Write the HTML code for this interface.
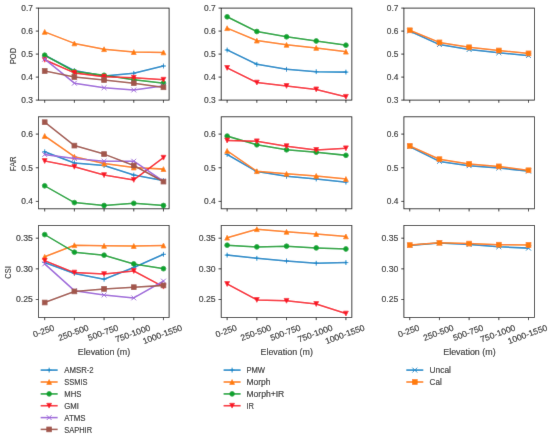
<!DOCTYPE html>
<html><head><meta charset="utf-8"><style>
html,body{margin:0;padding:0;background:#fff;}
svg{display:block;}
text{font-family:"Liberation Sans",sans-serif;font-size:8.5px;fill:#1a1a1a;stroke:#1a1a1a;stroke-width:0.12px;}
</style></head><body>
<svg width="550" height="438" viewBox="0 0 550 438">
<defs><filter id="bl" x="0" y="0" width="550" height="438" filterUnits="userSpaceOnUse"><feConvolveMatrix order="3" kernelMatrix="0.0052 0.0619 0.0052 0.0619 0.7314 0.0619 0.0052 0.0619 0.0052" edgeMode="duplicate"/></filter></defs>
<g filter="url(#bl)">
<rect width="550" height="438" fill="#fff"/>
<clipPath id="cp00"><rect x="38.45" y="8.1" width="130.65" height="92"/></clipPath>
<g clip-path="url(#cp00)">
<polyline points="44.69,55.3 74.38,70.6 104.08,76 133.77,73.3 163.46,66" fill="none" stroke="#0886c8" stroke-width="1.55" stroke-linejoin="round" stroke-linecap="square"/>
<path d="M42.29,55.3H47.09M44.69,52.9V57.7" stroke="#0886c8" stroke-width="1.0" fill="none"/>
<path d="M71.98,70.6H76.78M74.38,68.2V73" stroke="#0886c8" stroke-width="1.0" fill="none"/>
<path d="M101.67,76H106.48M104.08,73.6V78.4" stroke="#0886c8" stroke-width="1.0" fill="none"/>
<path d="M131.37,73.3H136.17M133.77,70.9V75.7" stroke="#0886c8" stroke-width="1.0" fill="none"/>
<path d="M161.06,66H165.86M163.46,63.6V68.4" stroke="#0886c8" stroke-width="1.0" fill="none"/>
<polyline points="44.69,31.9 74.38,43.4 104.08,49.2 133.77,52.1 163.46,52.4" fill="none" stroke="#ff7c08" stroke-width="1.55" stroke-linejoin="round" stroke-linecap="square"/>
<path d="M44.69,29.5L42.29,34.3L47.09,34.3Z" fill="#ff7c08" stroke="#ff7c08" stroke-width="0.76" stroke-linejoin="miter"/>
<path d="M74.38,41L71.98,45.8L76.78,45.8Z" fill="#ff7c08" stroke="#ff7c08" stroke-width="0.76" stroke-linejoin="miter"/>
<path d="M104.08,46.8L101.67,51.6L106.48,51.6Z" fill="#ff7c08" stroke="#ff7c08" stroke-width="0.76" stroke-linejoin="miter"/>
<path d="M133.77,49.7L131.37,54.5L136.17,54.5Z" fill="#ff7c08" stroke="#ff7c08" stroke-width="0.76" stroke-linejoin="miter"/>
<path d="M163.46,50L161.06,54.8L165.86,54.8Z" fill="#ff7c08" stroke="#ff7c08" stroke-width="0.76" stroke-linejoin="miter"/>
<polyline points="44.69,55.2 74.38,71.5 104.08,75.3 133.77,79.7 163.46,83.2" fill="none" stroke="#08a22e" stroke-width="1.55" stroke-linejoin="round" stroke-linecap="square"/>
<circle cx="44.69" cy="55.2" r="2.4" fill="#08a22e" stroke="#08a22e" stroke-width="0.76"/>
<circle cx="74.38" cy="71.5" r="2.4" fill="#08a22e" stroke="#08a22e" stroke-width="0.76"/>
<circle cx="104.08" cy="75.3" r="2.4" fill="#08a22e" stroke="#08a22e" stroke-width="0.76"/>
<circle cx="133.77" cy="79.7" r="2.4" fill="#08a22e" stroke="#08a22e" stroke-width="0.76"/>
<circle cx="163.46" cy="83.2" r="2.4" fill="#08a22e" stroke="#08a22e" stroke-width="0.76"/>
<polyline points="44.69,59.8 74.38,72.9 104.08,76.7 133.77,77.7 163.46,79.7" fill="none" stroke="#f81826" stroke-width="1.55" stroke-linejoin="round" stroke-linecap="square"/>
<path d="M44.69,62.2L42.29,57.4L47.09,57.4Z" fill="#f81826" stroke="#f81826" stroke-width="0.76" stroke-linejoin="miter"/>
<path d="M74.38,75.3L71.98,70.5L76.78,70.5Z" fill="#f81826" stroke="#f81826" stroke-width="0.76" stroke-linejoin="miter"/>
<path d="M104.08,79.1L101.67,74.3L106.48,74.3Z" fill="#f81826" stroke="#f81826" stroke-width="0.76" stroke-linejoin="miter"/>
<path d="M133.77,80.1L131.37,75.3L136.17,75.3Z" fill="#f81826" stroke="#f81826" stroke-width="0.76" stroke-linejoin="miter"/>
<path d="M163.46,82.1L161.06,77.3L165.86,77.3Z" fill="#f81826" stroke="#f81826" stroke-width="0.76" stroke-linejoin="miter"/>
<polyline points="44.69,59.2 74.38,83.2 104.08,87.7 133.77,90 163.46,85.9" fill="none" stroke="#9e66da" stroke-width="1.55" stroke-linejoin="round" stroke-linecap="square"/>
<path d="M42.29,56.8L47.09,61.6M42.29,61.6L47.09,56.8" stroke="#9e66da" stroke-width="1.0" fill="none"/>
<path d="M71.98,80.8L76.78,85.6M71.98,85.6L76.78,80.8" stroke="#9e66da" stroke-width="1.0" fill="none"/>
<path d="M101.67,85.3L106.48,90.1M101.67,90.1L106.48,85.3" stroke="#9e66da" stroke-width="1.0" fill="none"/>
<path d="M131.37,87.6L136.17,92.4M131.37,92.4L136.17,87.6" stroke="#9e66da" stroke-width="1.0" fill="none"/>
<path d="M161.06,83.5L165.86,88.3M161.06,88.3L165.86,83.5" stroke="#9e66da" stroke-width="1.0" fill="none"/>
<polyline points="44.69,71 74.38,77 104.08,80 133.77,83.2 163.46,87.3" fill="none" stroke="#a2564c" stroke-width="1.55" stroke-linejoin="round" stroke-linecap="square"/>
<rect x="42.29" y="68.6" width="4.8" height="4.8" fill="#a2564c" stroke="#a2564c" stroke-width="0.76" stroke-linejoin="miter"/>
<rect x="71.98" y="74.6" width="4.8" height="4.8" fill="#a2564c" stroke="#a2564c" stroke-width="0.76" stroke-linejoin="miter"/>
<rect x="101.67" y="77.6" width="4.8" height="4.8" fill="#a2564c" stroke="#a2564c" stroke-width="0.76" stroke-linejoin="miter"/>
<rect x="131.37" y="80.8" width="4.8" height="4.8" fill="#a2564c" stroke="#a2564c" stroke-width="0.76" stroke-linejoin="miter"/>
<rect x="161.06" y="84.9" width="4.8" height="4.8" fill="#a2564c" stroke="#a2564c" stroke-width="0.76" stroke-linejoin="miter"/>
</g>
<rect x="38.45" y="8.1" width="130.65" height="92" fill="none" stroke="#000" stroke-width="0.8" stroke-linejoin="miter"/>
<path d="M44.69,100.1v2.65M74.38,100.1v2.65M104.08,100.1v2.65M133.77,100.1v2.65M163.46,100.1v2.65M38.45,100.1h-2.65M38.45,77.1h-2.65M38.45,54.1h-2.65M38.45,31.1h-2.65M38.45,8.1h-2.65" stroke="#000" stroke-width="0.8"/>
<text x="32.95" y="102.85" text-anchor="end" textLength="11.69" lengthAdjust="spacingAndGlyphs">0.3</text>
<text x="32.95" y="79.85" text-anchor="end" textLength="11.69" lengthAdjust="spacingAndGlyphs">0.4</text>
<text x="32.95" y="56.85" text-anchor="end" textLength="11.69" lengthAdjust="spacingAndGlyphs">0.5</text>
<text x="32.95" y="33.85" text-anchor="end" textLength="11.69" lengthAdjust="spacingAndGlyphs">0.6</text>
<text x="32.95" y="10.85" text-anchor="end" textLength="11.69" lengthAdjust="spacingAndGlyphs">0.7</text>
<clipPath id="cp01"><rect x="221.2" y="8.1" width="130.65" height="92"/></clipPath>
<g clip-path="url(#cp01)">
<polyline points="227.14,50 256.83,64.3 286.52,69.3 316.22,71.7 345.91,72.1" fill="none" stroke="#0886c8" stroke-width="1.55" stroke-linejoin="round" stroke-linecap="square"/>
<path d="M224.74,50H229.54M227.14,47.6V52.4" stroke="#0886c8" stroke-width="1.0" fill="none"/>
<path d="M254.43,64.3H259.23M256.83,61.9V66.7" stroke="#0886c8" stroke-width="1.0" fill="none"/>
<path d="M284.12,69.3H288.92M286.52,66.9V71.7" stroke="#0886c8" stroke-width="1.0" fill="none"/>
<path d="M313.82,71.7H318.62M316.22,69.3V74.1" stroke="#0886c8" stroke-width="1.0" fill="none"/>
<path d="M343.51,72.1H348.31M345.91,69.7V74.5" stroke="#0886c8" stroke-width="1.0" fill="none"/>
<polyline points="227.14,28.2 256.83,40.6 286.52,44.8 316.22,47.9 345.91,51.7" fill="none" stroke="#ff7c08" stroke-width="1.55" stroke-linejoin="round" stroke-linecap="square"/>
<path d="M227.14,25.8L224.74,30.6L229.54,30.6Z" fill="#ff7c08" stroke="#ff7c08" stroke-width="0.76" stroke-linejoin="miter"/>
<path d="M256.83,38.2L254.43,43L259.23,43Z" fill="#ff7c08" stroke="#ff7c08" stroke-width="0.76" stroke-linejoin="miter"/>
<path d="M286.52,42.4L284.12,47.2L288.92,47.2Z" fill="#ff7c08" stroke="#ff7c08" stroke-width="0.76" stroke-linejoin="miter"/>
<path d="M316.22,45.5L313.82,50.3L318.62,50.3Z" fill="#ff7c08" stroke="#ff7c08" stroke-width="0.76" stroke-linejoin="miter"/>
<path d="M345.91,49.3L343.51,54.1L348.31,54.1Z" fill="#ff7c08" stroke="#ff7c08" stroke-width="0.76" stroke-linejoin="miter"/>
<polyline points="227.14,16.8 256.83,31.5 286.52,36.8 316.22,41 345.91,45.2" fill="none" stroke="#08a22e" stroke-width="1.55" stroke-linejoin="round" stroke-linecap="square"/>
<circle cx="227.14" cy="16.8" r="2.4" fill="#08a22e" stroke="#08a22e" stroke-width="0.76"/>
<circle cx="256.83" cy="31.5" r="2.4" fill="#08a22e" stroke="#08a22e" stroke-width="0.76"/>
<circle cx="286.52" cy="36.8" r="2.4" fill="#08a22e" stroke="#08a22e" stroke-width="0.76"/>
<circle cx="316.22" cy="41" r="2.4" fill="#08a22e" stroke="#08a22e" stroke-width="0.76"/>
<circle cx="345.91" cy="45.2" r="2.4" fill="#08a22e" stroke="#08a22e" stroke-width="0.76"/>
<polyline points="227.14,67.9 256.83,82.6 286.52,85.9 316.22,89.4 345.91,96.8" fill="none" stroke="#f81826" stroke-width="1.55" stroke-linejoin="round" stroke-linecap="square"/>
<path d="M227.14,70.3L224.74,65.5L229.54,65.5Z" fill="#f81826" stroke="#f81826" stroke-width="0.76" stroke-linejoin="miter"/>
<path d="M256.83,85L254.43,80.2L259.23,80.2Z" fill="#f81826" stroke="#f81826" stroke-width="0.76" stroke-linejoin="miter"/>
<path d="M286.52,88.3L284.12,83.5L288.92,83.5Z" fill="#f81826" stroke="#f81826" stroke-width="0.76" stroke-linejoin="miter"/>
<path d="M316.22,91.8L313.82,87L318.62,87Z" fill="#f81826" stroke="#f81826" stroke-width="0.76" stroke-linejoin="miter"/>
<path d="M345.91,99.2L343.51,94.4L348.31,94.4Z" fill="#f81826" stroke="#f81826" stroke-width="0.76" stroke-linejoin="miter"/>
</g>
<rect x="221.2" y="8.1" width="130.65" height="92" fill="none" stroke="#000" stroke-width="0.8" stroke-linejoin="miter"/>
<path d="M227.14,100.1v2.65M256.83,100.1v2.65M286.52,100.1v2.65M316.22,100.1v2.65M345.91,100.1v2.65M221.2,100.1h-2.65M221.2,77.1h-2.65M221.2,54.1h-2.65M221.2,31.1h-2.65M221.2,8.1h-2.65" stroke="#000" stroke-width="0.8"/>
<text x="215.7" y="102.85" text-anchor="end" textLength="11.69" lengthAdjust="spacingAndGlyphs">0.3</text>
<text x="215.7" y="79.85" text-anchor="end" textLength="11.69" lengthAdjust="spacingAndGlyphs">0.4</text>
<text x="215.7" y="56.85" text-anchor="end" textLength="11.69" lengthAdjust="spacingAndGlyphs">0.5</text>
<text x="215.7" y="33.85" text-anchor="end" textLength="11.69" lengthAdjust="spacingAndGlyphs">0.6</text>
<text x="215.7" y="10.85" text-anchor="end" textLength="11.69" lengthAdjust="spacingAndGlyphs">0.7</text>
<clipPath id="cp02"><rect x="403.9" y="8.1" width="130.65" height="92"/></clipPath>
<g clip-path="url(#cp02)">
<polyline points="409.74,31 439.43,44.6 469.12,49.5 498.82,52.8 528.51,55.6" fill="none" stroke="#0886c8" stroke-width="1.55" stroke-linejoin="round" stroke-linecap="square"/>
<path d="M407.34,28.6L412.14,33.4M407.34,33.4L412.14,28.6" stroke="#0886c8" stroke-width="1.0" fill="none"/>
<path d="M437.03,42.2L441.83,47M437.03,47L441.83,42.2" stroke="#0886c8" stroke-width="1.0" fill="none"/>
<path d="M466.72,47.1L471.52,51.9M466.72,51.9L471.52,47.1" stroke="#0886c8" stroke-width="1.0" fill="none"/>
<path d="M496.42,50.4L501.22,55.2M496.42,55.2L501.22,50.4" stroke="#0886c8" stroke-width="1.0" fill="none"/>
<path d="M526.11,53.2L530.91,58M526.11,58L530.91,53.2" stroke="#0886c8" stroke-width="1.0" fill="none"/>
<polyline points="409.74,30.3 439.43,42.4 469.12,47.3 498.82,50.5 528.51,53.4" fill="none" stroke="#ff7c08" stroke-width="1.55" stroke-linejoin="round" stroke-linecap="square"/>
<rect x="407.34" y="27.9" width="4.8" height="4.8" fill="#ff7c08" stroke="#ff7c08" stroke-width="0.76" stroke-linejoin="miter"/>
<rect x="437.03" y="40" width="4.8" height="4.8" fill="#ff7c08" stroke="#ff7c08" stroke-width="0.76" stroke-linejoin="miter"/>
<rect x="466.72" y="44.9" width="4.8" height="4.8" fill="#ff7c08" stroke="#ff7c08" stroke-width="0.76" stroke-linejoin="miter"/>
<rect x="496.42" y="48.1" width="4.8" height="4.8" fill="#ff7c08" stroke="#ff7c08" stroke-width="0.76" stroke-linejoin="miter"/>
<rect x="526.11" y="51" width="4.8" height="4.8" fill="#ff7c08" stroke="#ff7c08" stroke-width="0.76" stroke-linejoin="miter"/>
</g>
<rect x="403.9" y="8.1" width="130.65" height="92" fill="none" stroke="#000" stroke-width="0.8" stroke-linejoin="miter"/>
<path d="M409.74,100.1v2.65M439.43,100.1v2.65M469.12,100.1v2.65M498.82,100.1v2.65M528.51,100.1v2.65M403.9,100.1h-2.65M403.9,77.1h-2.65M403.9,54.1h-2.65M403.9,31.1h-2.65M403.9,8.1h-2.65" stroke="#000" stroke-width="0.8"/>
<text x="398.4" y="102.85" text-anchor="end" textLength="11.69" lengthAdjust="spacingAndGlyphs">0.3</text>
<text x="398.4" y="79.85" text-anchor="end" textLength="11.69" lengthAdjust="spacingAndGlyphs">0.4</text>
<text x="398.4" y="56.85" text-anchor="end" textLength="11.69" lengthAdjust="spacingAndGlyphs">0.5</text>
<text x="398.4" y="33.85" text-anchor="end" textLength="11.69" lengthAdjust="spacingAndGlyphs">0.6</text>
<text x="398.4" y="10.85" text-anchor="end" textLength="11.69" lengthAdjust="spacingAndGlyphs">0.7</text>
<clipPath id="cp10"><rect x="38.45" y="116.8" width="130.65" height="92"/></clipPath>
<g clip-path="url(#cp10)">
<polyline points="44.69,151.8 74.38,162.9 104.08,165.5 133.77,175.1 163.46,180.6" fill="none" stroke="#0886c8" stroke-width="1.55" stroke-linejoin="round" stroke-linecap="square"/>
<path d="M42.29,151.8H47.09M44.69,149.4V154.2" stroke="#0886c8" stroke-width="1.0" fill="none"/>
<path d="M71.98,162.9H76.78M74.38,160.5V165.3" stroke="#0886c8" stroke-width="1.0" fill="none"/>
<path d="M101.67,165.5H106.48M104.08,163.1V167.9" stroke="#0886c8" stroke-width="1.0" fill="none"/>
<path d="M131.37,175.1H136.17M133.77,172.7V177.5" stroke="#0886c8" stroke-width="1.0" fill="none"/>
<path d="M161.06,180.6H165.86M163.46,178.2V183" stroke="#0886c8" stroke-width="1.0" fill="none"/>
<polyline points="44.69,136 74.38,156.7 104.08,163.6 133.77,167.5 163.46,169.1" fill="none" stroke="#ff7c08" stroke-width="1.55" stroke-linejoin="round" stroke-linecap="square"/>
<path d="M44.69,133.6L42.29,138.4L47.09,138.4Z" fill="#ff7c08" stroke="#ff7c08" stroke-width="0.76" stroke-linejoin="miter"/>
<path d="M74.38,154.3L71.98,159.1L76.78,159.1Z" fill="#ff7c08" stroke="#ff7c08" stroke-width="0.76" stroke-linejoin="miter"/>
<path d="M104.08,161.2L101.67,166L106.48,166Z" fill="#ff7c08" stroke="#ff7c08" stroke-width="0.76" stroke-linejoin="miter"/>
<path d="M133.77,165.1L131.37,169.9L136.17,169.9Z" fill="#ff7c08" stroke="#ff7c08" stroke-width="0.76" stroke-linejoin="miter"/>
<path d="M163.46,166.7L161.06,171.5L165.86,171.5Z" fill="#ff7c08" stroke="#ff7c08" stroke-width="0.76" stroke-linejoin="miter"/>
<polyline points="44.69,185.8 74.38,202.6 104.08,205.5 133.77,203.3 163.46,205.5" fill="none" stroke="#08a22e" stroke-width="1.55" stroke-linejoin="round" stroke-linecap="square"/>
<circle cx="44.69" cy="185.8" r="2.4" fill="#08a22e" stroke="#08a22e" stroke-width="0.76"/>
<circle cx="74.38" cy="202.6" r="2.4" fill="#08a22e" stroke="#08a22e" stroke-width="0.76"/>
<circle cx="104.08" cy="205.5" r="2.4" fill="#08a22e" stroke="#08a22e" stroke-width="0.76"/>
<circle cx="133.77" cy="203.3" r="2.4" fill="#08a22e" stroke="#08a22e" stroke-width="0.76"/>
<circle cx="163.46" cy="205.5" r="2.4" fill="#08a22e" stroke="#08a22e" stroke-width="0.76"/>
<polyline points="44.69,161 74.38,166.8 104.08,175.1 133.77,179.9 163.46,157.7" fill="none" stroke="#f81826" stroke-width="1.55" stroke-linejoin="round" stroke-linecap="square"/>
<path d="M44.69,163.4L42.29,158.6L47.09,158.6Z" fill="#f81826" stroke="#f81826" stroke-width="0.76" stroke-linejoin="miter"/>
<path d="M74.38,169.2L71.98,164.4L76.78,164.4Z" fill="#f81826" stroke="#f81826" stroke-width="0.76" stroke-linejoin="miter"/>
<path d="M104.08,177.5L101.67,172.7L106.48,172.7Z" fill="#f81826" stroke="#f81826" stroke-width="0.76" stroke-linejoin="miter"/>
<path d="M133.77,182.3L131.37,177.5L136.17,177.5Z" fill="#f81826" stroke="#f81826" stroke-width="0.76" stroke-linejoin="miter"/>
<path d="M163.46,160.1L161.06,155.3L165.86,155.3Z" fill="#f81826" stroke="#f81826" stroke-width="0.76" stroke-linejoin="miter"/>
<polyline points="44.69,154.5 74.38,158.5 104.08,161.2 133.77,161.2 163.46,181.2" fill="none" stroke="#9e66da" stroke-width="1.55" stroke-linejoin="round" stroke-linecap="square"/>
<path d="M42.29,152.1L47.09,156.9M42.29,156.9L47.09,152.1" stroke="#9e66da" stroke-width="1.0" fill="none"/>
<path d="M71.98,156.1L76.78,160.9M71.98,160.9L76.78,156.1" stroke="#9e66da" stroke-width="1.0" fill="none"/>
<path d="M101.67,158.8L106.48,163.6M101.67,163.6L106.48,158.8" stroke="#9e66da" stroke-width="1.0" fill="none"/>
<path d="M131.37,158.8L136.17,163.6M131.37,163.6L136.17,158.8" stroke="#9e66da" stroke-width="1.0" fill="none"/>
<path d="M161.06,178.8L165.86,183.6M161.06,183.6L165.86,178.8" stroke="#9e66da" stroke-width="1.0" fill="none"/>
<polyline points="44.69,122.2 74.38,145.6 104.08,154.1 133.77,165.5 163.46,181.6" fill="none" stroke="#a2564c" stroke-width="1.55" stroke-linejoin="round" stroke-linecap="square"/>
<rect x="42.29" y="119.8" width="4.8" height="4.8" fill="#a2564c" stroke="#a2564c" stroke-width="0.76" stroke-linejoin="miter"/>
<rect x="71.98" y="143.2" width="4.8" height="4.8" fill="#a2564c" stroke="#a2564c" stroke-width="0.76" stroke-linejoin="miter"/>
<rect x="101.67" y="151.7" width="4.8" height="4.8" fill="#a2564c" stroke="#a2564c" stroke-width="0.76" stroke-linejoin="miter"/>
<rect x="131.37" y="163.1" width="4.8" height="4.8" fill="#a2564c" stroke="#a2564c" stroke-width="0.76" stroke-linejoin="miter"/>
<rect x="161.06" y="179.2" width="4.8" height="4.8" fill="#a2564c" stroke="#a2564c" stroke-width="0.76" stroke-linejoin="miter"/>
</g>
<rect x="38.45" y="116.8" width="130.65" height="92" fill="none" stroke="#000" stroke-width="0.8" stroke-linejoin="miter"/>
<path d="M44.69,208.8v2.65M74.38,208.8v2.65M104.08,208.8v2.65M133.77,208.8v2.65M163.46,208.8v2.65M38.45,201.4h-2.65M38.45,167.75h-2.65M38.45,134.1h-2.65" stroke="#000" stroke-width="0.8"/>
<text x="32.95" y="204.15" text-anchor="end" textLength="11.69" lengthAdjust="spacingAndGlyphs">0.4</text>
<text x="32.95" y="170.5" text-anchor="end" textLength="11.69" lengthAdjust="spacingAndGlyphs">0.5</text>
<text x="32.95" y="136.85" text-anchor="end" textLength="11.69" lengthAdjust="spacingAndGlyphs">0.6</text>
<clipPath id="cp11"><rect x="221.2" y="116.8" width="130.65" height="92"/></clipPath>
<g clip-path="url(#cp11)">
<polyline points="227.14,154.4 256.83,171.6 286.52,176.3 316.22,179 345.91,182.1" fill="none" stroke="#0886c8" stroke-width="1.55" stroke-linejoin="round" stroke-linecap="square"/>
<path d="M224.74,154.4H229.54M227.14,152V156.8" stroke="#0886c8" stroke-width="1.0" fill="none"/>
<path d="M254.43,171.6H259.23M256.83,169.2V174" stroke="#0886c8" stroke-width="1.0" fill="none"/>
<path d="M284.12,176.3H288.92M286.52,173.9V178.7" stroke="#0886c8" stroke-width="1.0" fill="none"/>
<path d="M313.82,179H318.62M316.22,176.6V181.4" stroke="#0886c8" stroke-width="1.0" fill="none"/>
<path d="M343.51,182.1H348.31M345.91,179.7V184.5" stroke="#0886c8" stroke-width="1.0" fill="none"/>
<polyline points="227.14,150.9 256.83,171.2 286.52,173.8 316.22,175.9 345.91,179" fill="none" stroke="#ff7c08" stroke-width="1.55" stroke-linejoin="round" stroke-linecap="square"/>
<path d="M227.14,148.5L224.74,153.3L229.54,153.3Z" fill="#ff7c08" stroke="#ff7c08" stroke-width="0.76" stroke-linejoin="miter"/>
<path d="M256.83,168.8L254.43,173.6L259.23,173.6Z" fill="#ff7c08" stroke="#ff7c08" stroke-width="0.76" stroke-linejoin="miter"/>
<path d="M286.52,171.4L284.12,176.2L288.92,176.2Z" fill="#ff7c08" stroke="#ff7c08" stroke-width="0.76" stroke-linejoin="miter"/>
<path d="M316.22,173.5L313.82,178.3L318.62,178.3Z" fill="#ff7c08" stroke="#ff7c08" stroke-width="0.76" stroke-linejoin="miter"/>
<path d="M345.91,176.6L343.51,181.4L348.31,181.4Z" fill="#ff7c08" stroke="#ff7c08" stroke-width="0.76" stroke-linejoin="miter"/>
<polyline points="227.14,136.1 256.83,144.8 286.52,149.8 316.22,152.2 345.91,155.3" fill="none" stroke="#08a22e" stroke-width="1.55" stroke-linejoin="round" stroke-linecap="square"/>
<circle cx="227.14" cy="136.1" r="2.4" fill="#08a22e" stroke="#08a22e" stroke-width="0.76"/>
<circle cx="256.83" cy="144.8" r="2.4" fill="#08a22e" stroke="#08a22e" stroke-width="0.76"/>
<circle cx="286.52" cy="149.8" r="2.4" fill="#08a22e" stroke="#08a22e" stroke-width="0.76"/>
<circle cx="316.22" cy="152.2" r="2.4" fill="#08a22e" stroke="#08a22e" stroke-width="0.76"/>
<circle cx="345.91" cy="155.3" r="2.4" fill="#08a22e" stroke="#08a22e" stroke-width="0.76"/>
<polyline points="227.14,140.5 256.83,141.3 286.52,146.2 316.22,149.9 345.91,148.3" fill="none" stroke="#f81826" stroke-width="1.55" stroke-linejoin="round" stroke-linecap="square"/>
<path d="M227.14,142.9L224.74,138.1L229.54,138.1Z" fill="#f81826" stroke="#f81826" stroke-width="0.76" stroke-linejoin="miter"/>
<path d="M256.83,143.7L254.43,138.9L259.23,138.9Z" fill="#f81826" stroke="#f81826" stroke-width="0.76" stroke-linejoin="miter"/>
<path d="M286.52,148.6L284.12,143.8L288.92,143.8Z" fill="#f81826" stroke="#f81826" stroke-width="0.76" stroke-linejoin="miter"/>
<path d="M316.22,152.3L313.82,147.5L318.62,147.5Z" fill="#f81826" stroke="#f81826" stroke-width="0.76" stroke-linejoin="miter"/>
<path d="M345.91,150.7L343.51,145.9L348.31,145.9Z" fill="#f81826" stroke="#f81826" stroke-width="0.76" stroke-linejoin="miter"/>
</g>
<rect x="221.2" y="116.8" width="130.65" height="92" fill="none" stroke="#000" stroke-width="0.8" stroke-linejoin="miter"/>
<path d="M227.14,208.8v2.65M256.83,208.8v2.65M286.52,208.8v2.65M316.22,208.8v2.65M345.91,208.8v2.65M221.2,201.4h-2.65M221.2,167.75h-2.65M221.2,134.1h-2.65" stroke="#000" stroke-width="0.8"/>
<text x="215.7" y="204.15" text-anchor="end" textLength="11.69" lengthAdjust="spacingAndGlyphs">0.4</text>
<text x="215.7" y="170.5" text-anchor="end" textLength="11.69" lengthAdjust="spacingAndGlyphs">0.5</text>
<text x="215.7" y="136.85" text-anchor="end" textLength="11.69" lengthAdjust="spacingAndGlyphs">0.6</text>
<clipPath id="cp12"><rect x="403.9" y="116.8" width="130.65" height="92"/></clipPath>
<g clip-path="url(#cp12)">
<polyline points="409.74,146.6 439.43,161.4 469.12,165.7 498.82,168 528.51,171.1" fill="none" stroke="#0886c8" stroke-width="1.55" stroke-linejoin="round" stroke-linecap="square"/>
<path d="M407.34,144.2L412.14,149M407.34,149L412.14,144.2" stroke="#0886c8" stroke-width="1.0" fill="none"/>
<path d="M437.03,159L441.83,163.8M437.03,163.8L441.83,159" stroke="#0886c8" stroke-width="1.0" fill="none"/>
<path d="M466.72,163.3L471.52,168.1M466.72,168.1L471.52,163.3" stroke="#0886c8" stroke-width="1.0" fill="none"/>
<path d="M496.42,165.6L501.22,170.4M496.42,170.4L501.22,165.6" stroke="#0886c8" stroke-width="1.0" fill="none"/>
<path d="M526.11,168.7L530.91,173.5M526.11,173.5L530.91,168.7" stroke="#0886c8" stroke-width="1.0" fill="none"/>
<polyline points="409.74,145.9 439.43,159.2 469.12,164 498.82,166.4 528.51,170.3" fill="none" stroke="#ff7c08" stroke-width="1.55" stroke-linejoin="round" stroke-linecap="square"/>
<rect x="407.34" y="143.5" width="4.8" height="4.8" fill="#ff7c08" stroke="#ff7c08" stroke-width="0.76" stroke-linejoin="miter"/>
<rect x="437.03" y="156.8" width="4.8" height="4.8" fill="#ff7c08" stroke="#ff7c08" stroke-width="0.76" stroke-linejoin="miter"/>
<rect x="466.72" y="161.6" width="4.8" height="4.8" fill="#ff7c08" stroke="#ff7c08" stroke-width="0.76" stroke-linejoin="miter"/>
<rect x="496.42" y="164" width="4.8" height="4.8" fill="#ff7c08" stroke="#ff7c08" stroke-width="0.76" stroke-linejoin="miter"/>
<rect x="526.11" y="167.9" width="4.8" height="4.8" fill="#ff7c08" stroke="#ff7c08" stroke-width="0.76" stroke-linejoin="miter"/>
</g>
<rect x="403.9" y="116.8" width="130.65" height="92" fill="none" stroke="#000" stroke-width="0.8" stroke-linejoin="miter"/>
<path d="M409.74,208.8v2.65M439.43,208.8v2.65M469.12,208.8v2.65M498.82,208.8v2.65M528.51,208.8v2.65M403.9,201.4h-2.65M403.9,167.75h-2.65M403.9,134.1h-2.65" stroke="#000" stroke-width="0.8"/>
<text x="398.4" y="204.15" text-anchor="end" textLength="11.69" lengthAdjust="spacingAndGlyphs">0.4</text>
<text x="398.4" y="170.5" text-anchor="end" textLength="11.69" lengthAdjust="spacingAndGlyphs">0.5</text>
<text x="398.4" y="136.85" text-anchor="end" textLength="11.69" lengthAdjust="spacingAndGlyphs">0.6</text>
<clipPath id="cp20"><rect x="38.45" y="225.5" width="130.65" height="92"/></clipPath>
<g clip-path="url(#cp20)">
<polyline points="44.69,262.5 74.38,273.5 104.08,279.2 133.77,267.5 163.46,254.3" fill="none" stroke="#0886c8" stroke-width="1.55" stroke-linejoin="round" stroke-linecap="square"/>
<path d="M42.29,262.5H47.09M44.69,260.1V264.9" stroke="#0886c8" stroke-width="1.0" fill="none"/>
<path d="M71.98,273.5H76.78M74.38,271.1V275.9" stroke="#0886c8" stroke-width="1.0" fill="none"/>
<path d="M101.67,279.2H106.48M104.08,276.8V281.6" stroke="#0886c8" stroke-width="1.0" fill="none"/>
<path d="M131.37,267.5H136.17M133.77,265.1V269.9" stroke="#0886c8" stroke-width="1.0" fill="none"/>
<path d="M161.06,254.3H165.86M163.46,251.9V256.7" stroke="#0886c8" stroke-width="1.0" fill="none"/>
<polyline points="44.69,256.8 74.38,245.2 104.08,245.8 133.77,246 163.46,245.5" fill="none" stroke="#ff7c08" stroke-width="1.55" stroke-linejoin="round" stroke-linecap="square"/>
<path d="M44.69,254.4L42.29,259.2L47.09,259.2Z" fill="#ff7c08" stroke="#ff7c08" stroke-width="0.76" stroke-linejoin="miter"/>
<path d="M74.38,242.8L71.98,247.6L76.78,247.6Z" fill="#ff7c08" stroke="#ff7c08" stroke-width="0.76" stroke-linejoin="miter"/>
<path d="M104.08,243.4L101.67,248.2L106.48,248.2Z" fill="#ff7c08" stroke="#ff7c08" stroke-width="0.76" stroke-linejoin="miter"/>
<path d="M133.77,243.6L131.37,248.4L136.17,248.4Z" fill="#ff7c08" stroke="#ff7c08" stroke-width="0.76" stroke-linejoin="miter"/>
<path d="M163.46,243.1L161.06,247.9L165.86,247.9Z" fill="#ff7c08" stroke="#ff7c08" stroke-width="0.76" stroke-linejoin="miter"/>
<polyline points="44.69,234.6 74.38,252.2 104.08,255.2 133.77,263.9 163.46,268.7" fill="none" stroke="#08a22e" stroke-width="1.55" stroke-linejoin="round" stroke-linecap="square"/>
<circle cx="44.69" cy="234.6" r="2.4" fill="#08a22e" stroke="#08a22e" stroke-width="0.76"/>
<circle cx="74.38" cy="252.2" r="2.4" fill="#08a22e" stroke="#08a22e" stroke-width="0.76"/>
<circle cx="104.08" cy="255.2" r="2.4" fill="#08a22e" stroke="#08a22e" stroke-width="0.76"/>
<circle cx="133.77" cy="263.9" r="2.4" fill="#08a22e" stroke="#08a22e" stroke-width="0.76"/>
<circle cx="163.46" cy="268.7" r="2.4" fill="#08a22e" stroke="#08a22e" stroke-width="0.76"/>
<polyline points="44.69,260.6 74.38,272.6 104.08,274.1 133.77,271 163.46,286.7" fill="none" stroke="#f81826" stroke-width="1.55" stroke-linejoin="round" stroke-linecap="square"/>
<path d="M44.69,263L42.29,258.2L47.09,258.2Z" fill="#f81826" stroke="#f81826" stroke-width="0.76" stroke-linejoin="miter"/>
<path d="M74.38,275L71.98,270.2L76.78,270.2Z" fill="#f81826" stroke="#f81826" stroke-width="0.76" stroke-linejoin="miter"/>
<path d="M104.08,276.5L101.67,271.7L106.48,271.7Z" fill="#f81826" stroke="#f81826" stroke-width="0.76" stroke-linejoin="miter"/>
<path d="M133.77,273.4L131.37,268.6L136.17,268.6Z" fill="#f81826" stroke="#f81826" stroke-width="0.76" stroke-linejoin="miter"/>
<path d="M163.46,289.1L161.06,284.3L165.86,284.3Z" fill="#f81826" stroke="#f81826" stroke-width="0.76" stroke-linejoin="miter"/>
<polyline points="44.69,263.9 74.38,290.7 104.08,295 133.77,297.9 163.46,281.1" fill="none" stroke="#9e66da" stroke-width="1.55" stroke-linejoin="round" stroke-linecap="square"/>
<path d="M42.29,261.5L47.09,266.3M42.29,266.3L47.09,261.5" stroke="#9e66da" stroke-width="1.0" fill="none"/>
<path d="M71.98,288.3L76.78,293.1M71.98,293.1L76.78,288.3" stroke="#9e66da" stroke-width="1.0" fill="none"/>
<path d="M101.67,292.6L106.48,297.4M101.67,297.4L106.48,292.6" stroke="#9e66da" stroke-width="1.0" fill="none"/>
<path d="M131.37,295.5L136.17,300.3M131.37,300.3L136.17,295.5" stroke="#9e66da" stroke-width="1.0" fill="none"/>
<path d="M161.06,278.7L165.86,283.5M161.06,283.5L165.86,278.7" stroke="#9e66da" stroke-width="1.0" fill="none"/>
<polyline points="44.69,302.5 74.38,291.4 104.08,288.9 133.77,287.2 163.46,285.4" fill="none" stroke="#a2564c" stroke-width="1.55" stroke-linejoin="round" stroke-linecap="square"/>
<rect x="42.29" y="300.1" width="4.8" height="4.8" fill="#a2564c" stroke="#a2564c" stroke-width="0.76" stroke-linejoin="miter"/>
<rect x="71.98" y="289" width="4.8" height="4.8" fill="#a2564c" stroke="#a2564c" stroke-width="0.76" stroke-linejoin="miter"/>
<rect x="101.67" y="286.5" width="4.8" height="4.8" fill="#a2564c" stroke="#a2564c" stroke-width="0.76" stroke-linejoin="miter"/>
<rect x="131.37" y="284.8" width="4.8" height="4.8" fill="#a2564c" stroke="#a2564c" stroke-width="0.76" stroke-linejoin="miter"/>
<rect x="161.06" y="283" width="4.8" height="4.8" fill="#a2564c" stroke="#a2564c" stroke-width="0.76" stroke-linejoin="miter"/>
</g>
<rect x="38.45" y="225.5" width="130.65" height="92" fill="none" stroke="#000" stroke-width="0.8" stroke-linejoin="miter"/>
<path d="M44.69,317.5v2.65M74.38,317.5v2.65M104.08,317.5v2.65M133.77,317.5v2.65M163.46,317.5v2.65M38.45,299.5h-2.65M38.45,268.85h-2.65M38.45,238.2h-2.65" stroke="#000" stroke-width="0.8"/>
<text x="32.95" y="302.25" text-anchor="end" textLength="16.92" lengthAdjust="spacingAndGlyphs">0.25</text>
<text x="32.95" y="271.6" text-anchor="end" textLength="16.92" lengthAdjust="spacingAndGlyphs">0.30</text>
<text x="32.95" y="240.95" text-anchor="end" textLength="16.92" lengthAdjust="spacingAndGlyphs">0.35</text>
<clipPath id="cp21"><rect x="221.2" y="225.5" width="130.65" height="92"/></clipPath>
<g clip-path="url(#cp21)">
<polyline points="227.14,255.1 256.83,258.3 286.52,260.9 316.22,263.2 345.91,262.6" fill="none" stroke="#0886c8" stroke-width="1.55" stroke-linejoin="round" stroke-linecap="square"/>
<path d="M224.74,255.1H229.54M227.14,252.7V257.5" stroke="#0886c8" stroke-width="1.0" fill="none"/>
<path d="M254.43,258.3H259.23M256.83,255.9V260.7" stroke="#0886c8" stroke-width="1.0" fill="none"/>
<path d="M284.12,260.9H288.92M286.52,258.5V263.3" stroke="#0886c8" stroke-width="1.0" fill="none"/>
<path d="M313.82,263.2H318.62M316.22,260.8V265.6" stroke="#0886c8" stroke-width="1.0" fill="none"/>
<path d="M343.51,262.6H348.31M345.91,260.2V265" stroke="#0886c8" stroke-width="1.0" fill="none"/>
<polyline points="227.14,237.7 256.83,229.2 286.52,231.8 316.22,234 345.91,236.4" fill="none" stroke="#ff7c08" stroke-width="1.55" stroke-linejoin="round" stroke-linecap="square"/>
<path d="M227.14,235.3L224.74,240.1L229.54,240.1Z" fill="#ff7c08" stroke="#ff7c08" stroke-width="0.76" stroke-linejoin="miter"/>
<path d="M256.83,226.8L254.43,231.6L259.23,231.6Z" fill="#ff7c08" stroke="#ff7c08" stroke-width="0.76" stroke-linejoin="miter"/>
<path d="M286.52,229.4L284.12,234.2L288.92,234.2Z" fill="#ff7c08" stroke="#ff7c08" stroke-width="0.76" stroke-linejoin="miter"/>
<path d="M316.22,231.6L313.82,236.4L318.62,236.4Z" fill="#ff7c08" stroke="#ff7c08" stroke-width="0.76" stroke-linejoin="miter"/>
<path d="M345.91,234L343.51,238.8L348.31,238.8Z" fill="#ff7c08" stroke="#ff7c08" stroke-width="0.76" stroke-linejoin="miter"/>
<polyline points="227.14,245.2 256.83,246.9 286.52,246.2 316.22,247.9 345.91,249" fill="none" stroke="#08a22e" stroke-width="1.55" stroke-linejoin="round" stroke-linecap="square"/>
<circle cx="227.14" cy="245.2" r="2.4" fill="#08a22e" stroke="#08a22e" stroke-width="0.76"/>
<circle cx="256.83" cy="246.9" r="2.4" fill="#08a22e" stroke="#08a22e" stroke-width="0.76"/>
<circle cx="286.52" cy="246.2" r="2.4" fill="#08a22e" stroke="#08a22e" stroke-width="0.76"/>
<circle cx="316.22" cy="247.9" r="2.4" fill="#08a22e" stroke="#08a22e" stroke-width="0.76"/>
<circle cx="345.91" cy="249" r="2.4" fill="#08a22e" stroke="#08a22e" stroke-width="0.76"/>
<polyline points="227.14,284 256.83,299.9 286.52,300.8 316.22,304 345.91,313.6" fill="none" stroke="#f81826" stroke-width="1.55" stroke-linejoin="round" stroke-linecap="square"/>
<path d="M227.14,286.4L224.74,281.6L229.54,281.6Z" fill="#f81826" stroke="#f81826" stroke-width="0.76" stroke-linejoin="miter"/>
<path d="M256.83,302.3L254.43,297.5L259.23,297.5Z" fill="#f81826" stroke="#f81826" stroke-width="0.76" stroke-linejoin="miter"/>
<path d="M286.52,303.2L284.12,298.4L288.92,298.4Z" fill="#f81826" stroke="#f81826" stroke-width="0.76" stroke-linejoin="miter"/>
<path d="M316.22,306.4L313.82,301.6L318.62,301.6Z" fill="#f81826" stroke="#f81826" stroke-width="0.76" stroke-linejoin="miter"/>
<path d="M345.91,316L343.51,311.2L348.31,311.2Z" fill="#f81826" stroke="#f81826" stroke-width="0.76" stroke-linejoin="miter"/>
</g>
<rect x="221.2" y="225.5" width="130.65" height="92" fill="none" stroke="#000" stroke-width="0.8" stroke-linejoin="miter"/>
<path d="M227.14,317.5v2.65M256.83,317.5v2.65M286.52,317.5v2.65M316.22,317.5v2.65M345.91,317.5v2.65M221.2,299.5h-2.65M221.2,268.85h-2.65M221.2,238.2h-2.65" stroke="#000" stroke-width="0.8"/>
<text x="215.7" y="302.25" text-anchor="end" textLength="16.92" lengthAdjust="spacingAndGlyphs">0.25</text>
<text x="215.7" y="271.6" text-anchor="end" textLength="16.92" lengthAdjust="spacingAndGlyphs">0.30</text>
<text x="215.7" y="240.95" text-anchor="end" textLength="16.92" lengthAdjust="spacingAndGlyphs">0.35</text>
<clipPath id="cp22"><rect x="403.9" y="225.5" width="130.65" height="92"/></clipPath>
<g clip-path="url(#cp22)">
<polyline points="409.74,245.3 439.43,243.1 469.12,244.5 498.82,246.8 528.51,248.1" fill="none" stroke="#0886c8" stroke-width="1.55" stroke-linejoin="round" stroke-linecap="square"/>
<path d="M407.34,242.9L412.14,247.7M407.34,247.7L412.14,242.9" stroke="#0886c8" stroke-width="1.0" fill="none"/>
<path d="M437.03,240.7L441.83,245.5M437.03,245.5L441.83,240.7" stroke="#0886c8" stroke-width="1.0" fill="none"/>
<path d="M466.72,242.1L471.52,246.9M466.72,246.9L471.52,242.1" stroke="#0886c8" stroke-width="1.0" fill="none"/>
<path d="M496.42,244.4L501.22,249.2M496.42,249.2L501.22,244.4" stroke="#0886c8" stroke-width="1.0" fill="none"/>
<path d="M526.11,245.7L530.91,250.5M526.11,250.5L530.91,245.7" stroke="#0886c8" stroke-width="1.0" fill="none"/>
<polyline points="409.74,245.1 439.43,242.8 469.12,243.6 498.82,244.7 528.51,245" fill="none" stroke="#ff7c08" stroke-width="1.55" stroke-linejoin="round" stroke-linecap="square"/>
<rect x="407.34" y="242.7" width="4.8" height="4.8" fill="#ff7c08" stroke="#ff7c08" stroke-width="0.76" stroke-linejoin="miter"/>
<rect x="437.03" y="240.4" width="4.8" height="4.8" fill="#ff7c08" stroke="#ff7c08" stroke-width="0.76" stroke-linejoin="miter"/>
<rect x="466.72" y="241.2" width="4.8" height="4.8" fill="#ff7c08" stroke="#ff7c08" stroke-width="0.76" stroke-linejoin="miter"/>
<rect x="496.42" y="242.3" width="4.8" height="4.8" fill="#ff7c08" stroke="#ff7c08" stroke-width="0.76" stroke-linejoin="miter"/>
<rect x="526.11" y="242.6" width="4.8" height="4.8" fill="#ff7c08" stroke="#ff7c08" stroke-width="0.76" stroke-linejoin="miter"/>
</g>
<rect x="403.9" y="225.5" width="130.65" height="92" fill="none" stroke="#000" stroke-width="0.8" stroke-linejoin="miter"/>
<path d="M409.74,317.5v2.65M439.43,317.5v2.65M469.12,317.5v2.65M498.82,317.5v2.65M528.51,317.5v2.65M403.9,299.5h-2.65M403.9,268.85h-2.65M403.9,238.2h-2.65" stroke="#000" stroke-width="0.8"/>
<text x="398.4" y="302.25" text-anchor="end" textLength="16.92" lengthAdjust="spacingAndGlyphs">0.25</text>
<text x="398.4" y="271.6" text-anchor="end" textLength="16.92" lengthAdjust="spacingAndGlyphs">0.30</text>
<text x="398.4" y="240.95" text-anchor="end" textLength="16.92" lengthAdjust="spacingAndGlyphs">0.35</text>
<g transform="translate(43.69,331.18) rotate(-20)"><text x="0" y="2.77" text-anchor="middle" textLength="22.08" lengthAdjust="spacingAndGlyphs">0-250</text></g>
<g transform="translate(73.38,332.84) rotate(-20)"><text x="0" y="2.77" text-anchor="middle" textLength="31.75" lengthAdjust="spacingAndGlyphs">250-500</text></g>
<g transform="translate(103.08,332.84) rotate(-20)"><text x="0" y="2.77" text-anchor="middle" textLength="31.75" lengthAdjust="spacingAndGlyphs">500-750</text></g>
<g transform="translate(132.77,333.66) rotate(-20)"><text x="0" y="2.77" text-anchor="middle" textLength="36.59" lengthAdjust="spacingAndGlyphs">750-1000</text></g>
<g transform="translate(162.46,334.49) rotate(-20)"><text x="0" y="2.77" text-anchor="middle" textLength="41.43" lengthAdjust="spacingAndGlyphs">1000-1550</text></g>
<text x="103.98" y="355" text-anchor="middle" textLength="52.39" lengthAdjust="spacingAndGlyphs">Elevation (m)</text>
<g transform="translate(226.14,331.18) rotate(-20)"><text x="0" y="2.77" text-anchor="middle" textLength="22.08" lengthAdjust="spacingAndGlyphs">0-250</text></g>
<g transform="translate(255.83,332.84) rotate(-20)"><text x="0" y="2.77" text-anchor="middle" textLength="31.75" lengthAdjust="spacingAndGlyphs">250-500</text></g>
<g transform="translate(285.52,332.84) rotate(-20)"><text x="0" y="2.77" text-anchor="middle" textLength="31.75" lengthAdjust="spacingAndGlyphs">500-750</text></g>
<g transform="translate(315.22,333.66) rotate(-20)"><text x="0" y="2.77" text-anchor="middle" textLength="36.59" lengthAdjust="spacingAndGlyphs">750-1000</text></g>
<g transform="translate(344.91,334.49) rotate(-20)"><text x="0" y="2.77" text-anchor="middle" textLength="41.43" lengthAdjust="spacingAndGlyphs">1000-1550</text></g>
<text x="286.72" y="355" text-anchor="middle" textLength="52.39" lengthAdjust="spacingAndGlyphs">Elevation (m)</text>
<g transform="translate(408.74,331.18) rotate(-20)"><text x="0" y="2.77" text-anchor="middle" textLength="22.08" lengthAdjust="spacingAndGlyphs">0-250</text></g>
<g transform="translate(438.43,332.84) rotate(-20)"><text x="0" y="2.77" text-anchor="middle" textLength="31.75" lengthAdjust="spacingAndGlyphs">250-500</text></g>
<g transform="translate(468.12,332.84) rotate(-20)"><text x="0" y="2.77" text-anchor="middle" textLength="31.75" lengthAdjust="spacingAndGlyphs">500-750</text></g>
<g transform="translate(497.82,333.66) rotate(-20)"><text x="0" y="2.77" text-anchor="middle" textLength="36.59" lengthAdjust="spacingAndGlyphs">750-1000</text></g>
<g transform="translate(527.51,334.49) rotate(-20)"><text x="0" y="2.77" text-anchor="middle" textLength="41.43" lengthAdjust="spacingAndGlyphs">1000-1550</text></g>
<text x="469.42" y="355" text-anchor="middle" textLength="52.39" lengthAdjust="spacingAndGlyphs">Elevation (m)</text>
<g transform="translate(16.22,56) rotate(-90)"><text x="0" y="0" text-anchor="middle" textLength="16.42" lengthAdjust="spacingAndGlyphs">POD</text></g>
<g transform="translate(16.22,163.8) rotate(-90)"><text x="0" y="0" text-anchor="middle" textLength="14.85" lengthAdjust="spacingAndGlyphs">FAR</text></g>
<g transform="translate(10.67,272.5) rotate(-90)"><text x="0" y="0" text-anchor="middle" textLength="12.37" lengthAdjust="spacingAndGlyphs">CSI</text></g>
<path d="M40.65,370.1H57.65" stroke="#0886c8" stroke-width="1.55"/>
<path d="M46.75,370.1H51.55M49.15,367.7V372.5" stroke="#0886c8" stroke-width="1.0" fill="none"/>
<text x="64.25" y="373.3" text-anchor="start" textLength="29.44" lengthAdjust="spacingAndGlyphs">AMSR-2</text>
<path d="M40.65,382H57.65" stroke="#ff7c08" stroke-width="1.55"/>
<path d="M49.15,379.6L46.75,384.4L51.55,384.4Z" fill="#ff7c08" stroke="#ff7c08" stroke-width="0.76" stroke-linejoin="miter"/>
<text x="64.25" y="385.2" text-anchor="start" textLength="23.27" lengthAdjust="spacingAndGlyphs">SSMIS</text>
<path d="M40.65,393.9H57.65" stroke="#08a22e" stroke-width="1.55"/>
<circle cx="49.15" cy="393.9" r="2.4" fill="#08a22e" stroke="#08a22e" stroke-width="0.76"/>
<text x="64.25" y="397.1" text-anchor="start" textLength="17.1" lengthAdjust="spacingAndGlyphs">MHS</text>
<path d="M40.65,405.7H57.65" stroke="#f81826" stroke-width="1.55"/>
<path d="M49.15,408.1L46.75,403.3L51.55,403.3Z" fill="#f81826" stroke="#f81826" stroke-width="0.76" stroke-linejoin="miter"/>
<text x="64.25" y="408.9" text-anchor="start" textLength="14.69" lengthAdjust="spacingAndGlyphs">GMI</text>
<path d="M40.65,417.6H57.65" stroke="#9e66da" stroke-width="1.55"/>
<path d="M46.75,415.2L51.55,420M46.75,420L51.55,415.2" stroke="#9e66da" stroke-width="1.0" fill="none"/>
<text x="64.25" y="420.8" text-anchor="start" textLength="21.22" lengthAdjust="spacingAndGlyphs">ATMS</text>
<path d="M40.65,429.4H57.65" stroke="#a2564c" stroke-width="1.55"/>
<rect x="46.75" y="427" width="4.8" height="4.8" fill="#a2564c" stroke="#a2564c" stroke-width="0.76" stroke-linejoin="miter"/>
<text x="64.25" y="432.6" text-anchor="start" textLength="27.84" lengthAdjust="spacingAndGlyphs">SAPHIR</text>
<path d="M223.6,370.1H240.6" stroke="#0886c8" stroke-width="1.55"/>
<path d="M229.7,370.1H234.5M232.1,367.7V372.5" stroke="#0886c8" stroke-width="1.0" fill="none"/>
<text x="246.4" y="373.3" text-anchor="start" textLength="18.65" lengthAdjust="spacingAndGlyphs">PMW</text>
<path d="M223.6,382H240.6" stroke="#ff7c08" stroke-width="1.55"/>
<path d="M232.1,379.6L229.7,384.4L234.5,384.4Z" fill="#ff7c08" stroke="#ff7c08" stroke-width="0.76" stroke-linejoin="miter"/>
<text x="246.4" y="385.2" text-anchor="start" textLength="23.97" lengthAdjust="spacingAndGlyphs">Morph</text>
<path d="M223.6,393.9H240.6" stroke="#08a22e" stroke-width="1.55"/>
<circle cx="232.1" cy="393.9" r="2.4" fill="#08a22e" stroke="#08a22e" stroke-width="0.76"/>
<text x="246.4" y="397.1" text-anchor="start" textLength="37.86" lengthAdjust="spacingAndGlyphs">Morph+IR</text>
<path d="M223.6,405.7H240.6" stroke="#f81826" stroke-width="1.55"/>
<path d="M232.1,408.1L229.7,403.3L234.5,403.3Z" fill="#f81826" stroke="#f81826" stroke-width="0.76" stroke-linejoin="miter"/>
<text x="246.4" y="408.9" text-anchor="start" textLength="7.52" lengthAdjust="spacingAndGlyphs">IR</text>
<path d="M406.3,370.1H423.3" stroke="#0886c8" stroke-width="1.55"/>
<path d="M412.4,367.7L417.2,372.5M412.4,372.5L417.2,367.7" stroke="#0886c8" stroke-width="1.0" fill="none"/>
<text x="429.6" y="373.3" text-anchor="start" textLength="21.33" lengthAdjust="spacingAndGlyphs">Uncal</text>
<path d="M406.3,382H423.3" stroke="#ff7c08" stroke-width="1.55"/>
<rect x="412.4" y="379.6" width="4.8" height="4.8" fill="#ff7c08" stroke="#ff7c08" stroke-width="0.76" stroke-linejoin="miter"/>
<text x="429.6" y="385.2" text-anchor="start" textLength="12.08" lengthAdjust="spacingAndGlyphs">Cal</text>
</g>
</svg>
</body></html>
